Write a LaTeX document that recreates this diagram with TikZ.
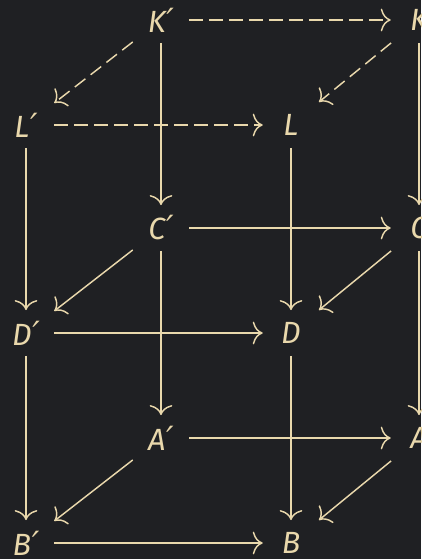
\documentclass[tikz,border=0pt]{standalone}
\usepackage{fontspec}
\setmainfont{Fira Sans}
\newfontfamily\primefont{DejaVu Sans}
\usetikzlibrary{arrows.meta}

\definecolor{bgdark}{HTML}{1F2023}
\definecolor{cream}{HTML}{E9D8AC}

\newcommand{\pr}{{\primefont\fontsize{25}{28}\selectfont\kern0.5pt′}}

\begin{document}
\begin{tikzpicture}[
x=0.75pt,
y=-0.75pt,
>={Computer Modern Rightarrow[width=17pt,length=7.5pt]},
font=\fontsize{23}{27}\selectfont\itshape,
obj/.style={
rectangle,
text=cream,
inner sep=0pt,
minimum width=42pt,
minimum height=34pt
},
arrow/.style={
->,
draw=cream,
line width=1.1pt
},
dashedarrow/.style={
->,
draw=cream,
line width=1.1pt,
dash pattern=on 10pt off 5pt
}
]

\fill[bgdark] (0,0) rectangle (421,559);
\useasboundingbox (0,0) rectangle (421,559);

% back face
\node[obj] (Kp) at (161,20) {K\pr};
\node[obj] (K) at (419,20) {K};
\node[obj] (Cp) at (161,228) {C\pr};
\node[obj] (C) at (419,228) {C};
\node[obj] (Ap) at (161,438) {A\pr};
\node[obj] (A) at (419,438) {A};

% front face
\node[obj] (Lp) at (26,125) {L\pr};
\node[obj] (L) at (291,125) {L};
\node[obj] (Dp) at (26,333) {D\pr};
\node[obj] (D) at (291,333) {D};
\node[obj] (Bp) at (26,543) {B\pr};
\node[obj] (B) at (291,543) {B};

% top square (dashed)
\draw[dashedarrow] (Kp) -- (K);
\draw[dashedarrow] (Kp) -- (Lp);
\draw[dashedarrow] (K) -- (L);
\draw[dashedarrow] (Lp) -- (L);

% middle square
\draw[arrow] (Cp) -- (C);
\draw[arrow] (Cp) -- (Dp);
\draw[arrow] (C) -- (D);
\draw[arrow] (Dp) -- (D);

% bottom square
\draw[arrow] (Ap) -- (A);
\draw[arrow] (Ap) -- (Bp);
\draw[arrow] (A) -- (B);
\draw[arrow] (Bp) -- (B);

% verticals
\draw[arrow] (Kp) -- (Cp);
\draw[arrow] (Cp) -- (Ap);
\draw[arrow] (K) -- (C);
\draw[arrow] (C) -- (A);
\draw[arrow] (Lp) -- (Dp);
\draw[arrow] (Dp) -- (Bp);
\draw[arrow] (L) -- (D);
\draw[arrow] (D) -- (B);

\end{tikzpicture}
\end{document}
